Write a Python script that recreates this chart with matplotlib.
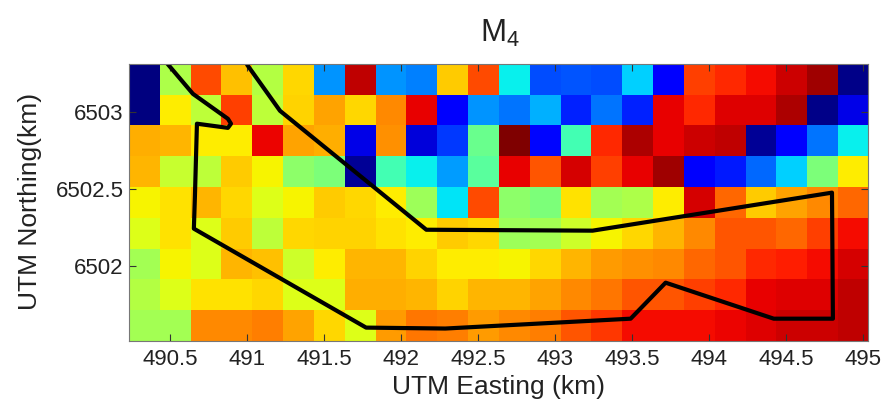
#!/usr/bin/env python3
"""M4 map: jet cells over UTM coordinates with the survey boundary on top."""
import numpy as np
import matplotlib
matplotlib.use("Agg")
import matplotlib.pyplot as plt

# cell values (0..1 on the jet scale), rows from north to south
row_0 = [.00, .56, .83, .705, .57, .68, .27, .945, .27, .25, .695, .83, .36, .20, .21, .20, .33, .12, .84, .865, .895, .93, .97, .01]
row_1 = [.00, .66, .58, .84, .58, .685, .735, .68, .765, .91, .11, .27, .24, .30, .16, .24, .16, .91, .865, .915, .915, .96, .01, .09]
row_2 = [.725, .715, .66, .66, .905, .735, .725, .09, .755, .08, .18, .48, 1.0, .13, .43, .865, .96, .91, .93, .945, .02, .12, .24, .36]
row_3 = [.715, .59, .58, .695, .65, .52, .50, .02, .43, .36, .28, .46, .91, .82, .925, .84, .91, .97, .11, .15, .23, .33, .50, .66]
row_4 = [.65, .67, .715, .68, .62, .65, .695, .68, .66, .54, .35, .83, .52, .50, .67, .55, .56, .66, .925, .80, .695, .735, .765, .80]
row_5 = [.62, .67, .62, .695, .58, .68, .685, .685, .67, .66, .695, .68, .54, .55, .60, .65, .68, .715, .765, .82, .82, .80, .84, .895]
row_6 = [.55, .65, .62, .715, .705, .60, .66, .715, .715, .685, .66, .66, .65, .68, .715, .745, .755, .765, .80, .82, .865, .875, .895, .925]
row_7 = [.57, .62, .67, .67, .68, .62, .62, .725, .725, .715, .685, .715, .715, .735, .765, .785, .82, .82, .84, .865, .91, .915, .915, .945]
row_8 = [.55, .55, .765, .765, .775, .735, .68, .62, .745, .785, .775, .745, .765, .775, .82, .85, .895, .895, .895, .905, .915, .93, .93, .945]

# boundary line, km
boundary_x = [490.49, 490.65, 490.877, 490.897, 490.877, 490.676, 490.663, 490.656, 491.774, 492.288,
              493.491, 493.718, 494.42, 494.804, 494.798, 493.244, 492.165, 491.215, 491.007]
boundary_y = [6503.31, 6503.121, 6502.959, 6502.927, 6502.90, 6502.927, 6502.459, 6502.245, 6501.602, 6501.596,
              6501.66, 6501.894, 6501.66, 6501.66, 6502.479, 6502.232, 6502.238, 6503.011, 6503.303]

x_ticks = [490.5, 491, 491.5, 492, 492.5, 493, 493.5, 494, 494.5, 495]
x_labels = ["490.5", "491", "491.5", "492", "492.5", "493", "493.5", "494", "494.5", "495"]
y_ticks = [6502, 6502.5, 6503]
y_labels = ["6502", "6502.5", "6503"]

plt.rcParams["font.family"] = ["Liberation Sans", "DejaVu Sans"]
plt.rcParams["mathtext.fontset"] = "custom"
plt.rcParams["mathtext.rm"] = "Liberation Sans"
plt.rcParams["mathtext.it"] = "Liberation Sans"

W, H = 895, 405
fig = plt.figure(figsize=(W / 100, H / 100), dpi=100)
ax = fig.add_axes([129 / W, 1 - 341 / H, 739.5 / W, 277 / H])

cells = np.array([row_0, row_1, row_2, row_3, row_4, row_5, row_6, row_7, row_8])
x0, x1 = 490.235, 495.035
y0, y1 = 6501.515, 6503.315
ax.imshow(cells, cmap="jet", vmin=0, vmax=1, extent=[x0, x1, y0, y1], aspect="auto",
          interpolation="nearest", origin="upper")
ax.plot(boundary_x, boundary_y, color="black", linewidth=3.0, solid_joinstyle="round")
ax.set_xlim(x0, x1)
ax.set_ylim(y0, y1)

ax.set_xticks(x_ticks, x_labels)
ax.set_yticks(y_ticks, y_labels)
ax.tick_params(direction="in", top=True, right=True, length=5, width=0.8, color="#333333",
               labelsize=16, labelcolor="#222222", pad=4)
ax.tick_params(axis="x", pad=6)
for s in ax.spines.values():
    s.set_color("#777777")
    s.set_linewidth(0.8)

fig.text(499 / W, 1 - 387 / H, "UTM Easting (km)", fontsize=19, color="#222222", ha="center", va="center")
fig.text(30 / W, 1 - 201 / H, "UTM Northing(km)", fontsize=19, color="#222222", rotation=90,
         ha="center", va="center")
fig.text(500 / W, 1 - 33 / H, r"M$_4$", fontsize=22.5, color="#222222", ha="center", va="center")

fig.savefig("out.png", dpi=100)
